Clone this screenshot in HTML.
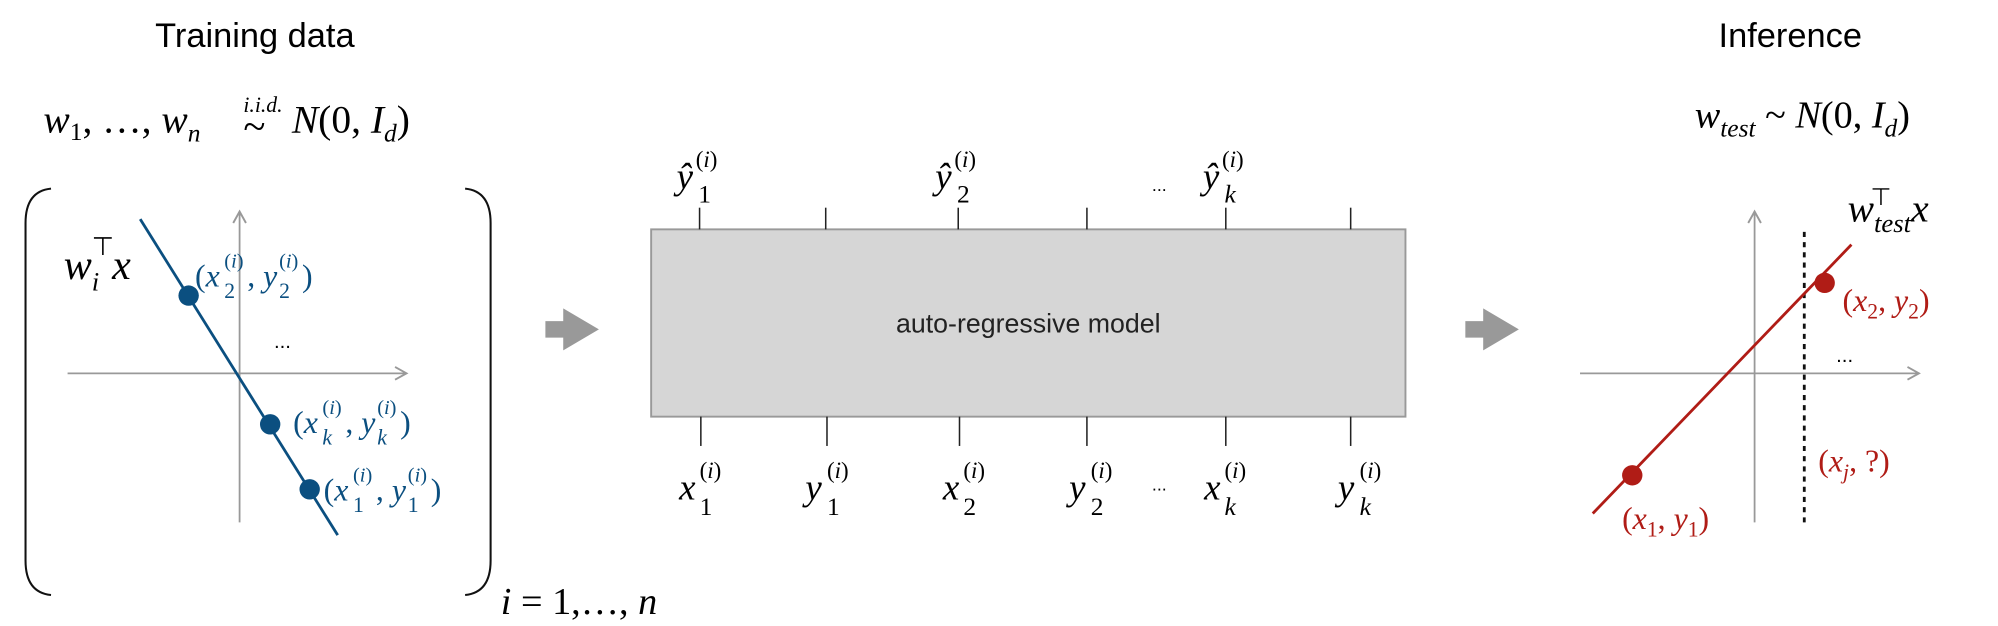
<!DOCTYPE html>
<html><head><meta charset="utf-8"><style>
html,body{margin:0;padding:0;background:#fff;}
svg{display:block}
.t{font-family:"Liberation Sans",sans-serif;}
.m{font-family:"Liberation Serif",serif;font-style:italic;}
.u{font-style:normal}
</style></head><body>
<svg width="1998" height="626" viewBox="0 0 1568 491.3" xmlns="http://www.w3.org/2000/svg">
<defs>
<marker id="ah" markerWidth="12" markerHeight="12" refX="10" refY="6" orient="auto" markerUnits="userSpaceOnUse">
<path d="M1,1 L10,6 L1,11" fill="none" stroke="#999" stroke-width="1.5"/></marker>
</defs>
<text class="t" x="200" y="37" font-size="27" text-anchor="middle">Training data</text>
<text class="t" x="1405" y="37" font-size="27" text-anchor="middle">Inference</text>
<g class="m" font-size="31">
<text x="34" y="104">w<tspan class="u" font-size="20" dy="6">1</tspan><tspan class="u" dy="-6">, …, </tspan>w<tspan font-size="20" dy="7">n</tspan></text>
<text x="191" y="88" font-size="17">i.i.d.</text>
<text class="u" x="191" y="110" font-size="32">~</text>
<text x="229" y="104">N<tspan class="u">(0, </tspan>I<tspan font-size="20" dy="7">d</tspan><tspan class="u" dy="-7">)</tspan></text>
</g>
<g class="m" font-size="30">
<text x="1330" y="100">w<tspan font-size="20" dy="7">test</tspan><tspan class="u" dy="-7"> ~ </tspan>N<tspan class="u">(0, </tspan>I<tspan font-size="20" dy="7">d</tspan><tspan class="u" dy="-7">)</tspan></text>
</g>
<path d="M40,148 Q20,150 20,175 L20,440 Q20,465 40,467" fill="none" stroke="#111" stroke-width="1.6"/>
<path d="M365,148 Q385,150 385,175 L385,440 Q385,465 365,467" fill="none" stroke="#111" stroke-width="1.6"/>
<text class="m" x="393" y="482" font-size="30">i<tspan class="u"> = 1,…, </tspan>n</text>
<line x1="53" y1="293" x2="319" y2="293" stroke="#999" stroke-width="1.4" marker-end="url(#ah)"/>
<line x1="188" y1="410" x2="188" y2="166" stroke="#999" stroke-width="1.4" marker-end="url(#ah)"/>
<line x1="110" y1="172" x2="265" y2="420" stroke="#0b4f80" stroke-width="2.2"/>
<circle cx="148" cy="232" r="8" fill="#0b4f80"/>
<circle cx="212" cy="333" r="8" fill="#0b4f80"/>
<circle cx="243" cy="384" r="8" fill="#0b4f80"/>
<text class="m" x="50" y="219" font-size="33">w<tspan font-size="21" dy="9">i</tspan></text>
<text class="t" x="72" y="200" font-size="20">⊤</text>
<text class="m" x="88" y="219" font-size="33">x</text>
<text class="t" x="215" y="273" font-size="16">...</text>
<g class="m" fill="#0b4f80" font-size="25">
<text x="153" y="225"><tspan class="u">(</tspan>x</text><text x="176" y="210" font-size="16"><tspan class="u">(</tspan>i<tspan class="u">)</tspan></text><text class="u" x="176" y="234" font-size="17">2</text><text x="194" y="225"><tspan class="u">, </tspan>y</text><text x="219" y="210" font-size="16"><tspan class="u">(</tspan>i<tspan class="u">)</tspan></text><text class="u" x="219" y="234" font-size="17">2</text><text class="u" x="237" y="225">)</text>
<text x="230" y="340"><tspan class="u">(</tspan>x</text><text x="253" y="325" font-size="16"><tspan class="u">(</tspan>i<tspan class="u">)</tspan></text><text x="253" y="349" font-size="17">k</text><text x="271" y="340"><tspan class="u">, </tspan>y</text><text x="296" y="325" font-size="16"><tspan class="u">(</tspan>i<tspan class="u">)</tspan></text><text x="296" y="349" font-size="17">k</text><text class="u" x="314" y="340">)</text>
<text x="254" y="393"><tspan class="u">(</tspan>x</text><text x="277" y="378" font-size="16"><tspan class="u">(</tspan>i<tspan class="u">)</tspan></text><text class="u" x="277" y="402" font-size="17">1</text><text x="295" y="393"><tspan class="u">, </tspan>y</text><text x="320" y="378" font-size="16"><tspan class="u">(</tspan>i<tspan class="u">)</tspan></text><text class="u" x="320" y="402" font-size="17">1</text><text class="u" x="338" y="393">)</text>
</g>
<path d="M428,252 L442,252 L442,242 L470,258.5 L442,275 L442,265 L428,265 Z" fill="#999"/>
<path d="M1150,252 L1164,252 L1164,242 L1192,258.5 L1164,275 L1164,265 L1150,265 Z" fill="#999"/>
<rect x="511" y="180" width="592" height="147" fill="#d6d6d6" stroke="#999" stroke-width="1.5"/>
<text class="t" x="807" y="261" font-size="21" text-anchor="middle" fill="#222">auto-regressive model</text>
<g stroke="#222" stroke-width="1.2">
<line x1="549" y1="163" x2="549" y2="180"/><line x1="648" y1="163" x2="648" y2="180"/><line x1="752" y1="163" x2="752" y2="180"/><line x1="853" y1="163" x2="853" y2="180"/><line x1="962" y1="163" x2="962" y2="180"/><line x1="1060" y1="163" x2="1060" y2="180"/>
<line x1="550" y1="327" x2="550" y2="350"/><line x1="649" y1="327" x2="649" y2="350"/><line x1="753" y1="327" x2="753" y2="350"/><line x1="853" y1="327" x2="853" y2="350"/><line x1="962" y1="327" x2="962" y2="350"/><line x1="1060" y1="327" x2="1060" y2="350"/>
</g>
<g class="m" font-size="29">
<text x="531" y="148">ŷ</text><text x="546" y="131" font-size="18"><tspan class="u">(</tspan>i<tspan class="u">)</tspan></text><text class="u" x="548" y="159" font-size="20">1</text>
<text x="734" y="148">ŷ</text><text x="749" y="131" font-size="18"><tspan class="u">(</tspan>i<tspan class="u">)</tspan></text><text class="u" x="751" y="159" font-size="20">2</text>
<text x="944" y="148">ŷ</text><text x="959" y="131" font-size="18"><tspan class="u">(</tspan>i<tspan class="u">)</tspan></text><text x="961" y="159" font-size="20">k</text>
<text class="t u" x="904" y="150" font-size="14">...</text>
<text x="533" y="392">x</text><text x="549" y="375" font-size="18"><tspan class="u">(</tspan>i<tspan class="u">)</tspan></text><text class="u" x="549" y="404" font-size="20">1</text>
<text x="632" y="392">y</text><text x="649" y="375" font-size="18"><tspan class="u">(</tspan>i<tspan class="u">)</tspan></text><text class="u" x="649" y="404" font-size="20">1</text>
<text x="740" y="392">x</text><text x="756" y="375" font-size="18"><tspan class="u">(</tspan>i<tspan class="u">)</tspan></text><text class="u" x="756" y="404" font-size="20">2</text>
<text x="839" y="392">y</text><text x="856" y="375" font-size="18"><tspan class="u">(</tspan>i<tspan class="u">)</tspan></text><text class="u" x="856" y="404" font-size="20">2</text>
<text class="t u" x="904" y="385" font-size="14">...</text>
<text x="945" y="392">x</text><text x="961" y="375" font-size="18"><tspan class="u">(</tspan>i<tspan class="u">)</tspan></text><text x="961" y="404" font-size="20">k</text>
<text x="1050" y="392">y</text><text x="1067" y="375" font-size="18"><tspan class="u">(</tspan>i<tspan class="u">)</tspan></text><text x="1067" y="404" font-size="20">k</text>
</g>
<line x1="1240" y1="293" x2="1506" y2="293" stroke="#999" stroke-width="1.4" marker-end="url(#ah)"/>
<line x1="1377" y1="410" x2="1377" y2="166" stroke="#999" stroke-width="1.4" marker-end="url(#ah)"/>
<line x1="1416" y1="182" x2="1416" y2="412" stroke="#111" stroke-width="2.2" stroke-dasharray="4,4"/>
<line x1="1250" y1="403" x2="1453" y2="192" stroke="#b01c16" stroke-width="2.2"/>
<circle cx="1281" cy="373" r="8" fill="#b01c16"/>
<circle cx="1432" cy="222" r="8" fill="#b01c16"/>
<text class="t" x="1441" y="284" font-size="16">...</text>
<text class="m" x="1450" y="174" font-size="31">w<tspan font-size="21" dy="8">test</tspan><tspan dy="-8">x</tspan></text>
<text class="t" x="1468" y="161" font-size="19">⊤</text>
<g class="m" fill="#b01c16" font-size="25">
<text x="1446" y="244"><tspan class="u">(</tspan>x<tspan class="u" font-size="17" dy="6">2</tspan><tspan class="u" dy="-6">, </tspan>y<tspan class="u" font-size="17" dy="6">2</tspan><tspan class="u" dy="-6">)</tspan></text>
<text x="1427" y="370"><tspan class="u">(</tspan>x<tspan font-size="17" dy="6">j</tspan><tspan class="u" dy="-6">,  ?)</tspan></text>
<text x="1273" y="415"><tspan class="u">(</tspan>x<tspan class="u" font-size="17" dy="6">1</tspan><tspan class="u" dy="-6">, </tspan>y<tspan class="u" font-size="17" dy="6">1</tspan><tspan class="u" dy="-6">)</tspan></text>
</g>
</svg>
</body></html>
